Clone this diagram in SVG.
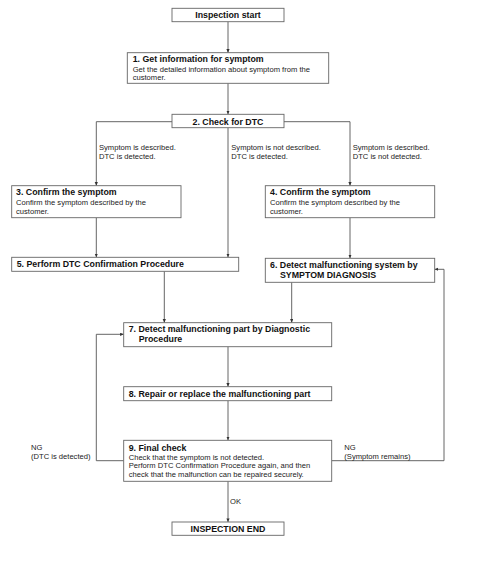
<svg xmlns="http://www.w3.org/2000/svg" width="484" height="586" viewBox="0 0 484 586">
<style>
.box{fill:#fff;stroke:#666;stroke-width:0.9}
.t{font-family:"Liberation Sans",Arial,sans-serif;font-weight:bold;font-size:8.8px;fill:#111}
.b{font-family:"Liberation Sans",Arial,sans-serif;font-size:7.6px;fill:#222}
.c{fill:none;stroke:#555;stroke-width:0.9;marker-end:url(#ah)}
.m{text-anchor:middle}
</style>
<defs>
<marker id="ah" markerUnits="userSpaceOnUse" markerWidth="4" markerHeight="4" refX="3.6" refY="1.6" orient="auto">
<path d="M0,0 L3.6,1.6 L0,3.2 z" fill="#333"/>
</marker>
</defs>
<rect width="484" height="586" fill="#fff"/>
<g id="connectors">
<path class="c" d="M228,21.7 V52.7"/>
<path class="c" d="M228,83.3 V114.3"/>
<path class="c" d="M172,121.7 H96.3 V185.7"/>
<path class="c" d="M284,121.7 H350 V185.7"/>
<path class="c" d="M228,127.7 V257.3"/>
<path class="c" d="M96.3,217.7 V257.3"/>
<path class="c" d="M350,217.7 V258.3"/>
<path class="c" d="M164.3,271.3 V322.7"/>
<path class="c" d="M291.7,282.3 V322.7"/>
<path class="c" d="M228,346.7 V386.7"/>
<path class="c" d="M228,400.7 V440.3"/>
<path class="c" d="M123.7,460.7 H96.3 V334.3 H123.7"/>
<path class="c" d="M331.7,460.7 H444 V269.3 H434.7"/>
<path class="c" d="M228,481.3 V522"/>
<text class="b" x="99" y="150.3">Symptom is described.</text>
<text class="b" x="99" y="159.3">DTC is detected.</text>
<text class="b" x="231.3" y="150.3">Symptom is not described.</text>
<text class="b" x="231.3" y="159.3">DTC is detected.</text>
<text class="b" x="352.7" y="150.3">Symptom is described.</text>
<text class="b" x="352.7" y="159.3">DTC is not detected.</text>
<text class="b" x="31" y="450.3">NG</text>
<text class="b" x="31" y="459.3">(DTC is detected)</text>
<text class="b" x="344.3" y="450.3">NG</text>
<text class="b" x="344.3" y="459.3">(Symptom remains)</text>
<text class="b" x="230" y="504.3">OK</text>
</g>
<g id="start">
<rect class="box" x="172" y="8.3" width="112" height="13.4"/>
<text class="t m" x="228" y="17.6">Inspection start</text>
</g>
<g id="n1">
<rect class="box" x="127.3" y="52.7" width="201.4" height="30.6"/>
<text class="t" x="132.7" y="62.2">1. Get information for symptom</text>
<text class="b" x="132.7" y="71.7">Get the detailed information about symptom from the</text>
<text class="b" x="132.7" y="80.3">customer.</text>
</g>
<g id="n2">
<rect class="box" x="172" y="114.3" width="112" height="13.4"/>
<text class="t m" x="228" y="124.5">2. Check for DTC</text>
</g>
<g id="n3">
<rect class="box" x="11.7" y="185.7" width="169.3" height="32"/>
<text class="t" x="16" y="195.3">3. Confirm the symptom</text>
<text class="b" x="16" y="205">Confirm the symptom described by the</text>
<text class="b" x="16" y="213.5">customer.</text>
</g>
<g id="n4">
<rect class="box" x="265.3" y="185.7" width="169.4" height="32"/>
<text class="t" x="270" y="195.3">4. Confirm the symptom</text>
<text class="b" x="270" y="205">Confirm the symptom described by the</text>
<text class="b" x="270" y="213.5">customer.</text>
</g>
<g id="n5">
<rect class="box" x="11.7" y="257.3" width="227" height="14"/>
<text class="t" x="16.7" y="267.2">5. Perform DTC Confirmation Procedure</text>
</g>
<g id="n6">
<rect class="box" x="265.3" y="258.3" width="169.4" height="24"/>
<text class="t" x="270" y="267.6">6. Detect malfunctioning system by</text>
<text class="t" x="280" y="277.9">SYMPTOM DIAGNOSIS</text>
</g>
<g id="n7">
<rect class="box" x="123.7" y="322.7" width="208" height="24"/>
<text class="t" x="128.7" y="332.2">7. Detect malfunctioning part by Diagnostic</text>
<text class="t" x="138.7" y="342.2">Procedure</text>
</g>
<g id="n8">
<rect class="box" x="123.7" y="386.7" width="208" height="14"/>
<text class="t" x="128.7" y="396.5">8. Repair or replace the malfunctioning part</text>
</g>
<g id="n9">
<rect class="box" x="123.7" y="440.3" width="208" height="41"/>
<text class="t" x="128.7" y="450.5">9. Final check</text>
<text class="b" x="128.7" y="459.5">Check that the symptom is not detected.</text>
<text class="b" x="128.7" y="468.4">Perform DTC Confirmation Procedure again, and then</text>
<text class="b" x="128.7" y="476.9">check that the malfunction can be repaired securely.</text>
</g>
<g id="end">
<rect class="box" x="172" y="522" width="112" height="13.3"/>
<text class="t m" x="228" y="532.2">INSPECTION END</text>
</g>
</svg>
